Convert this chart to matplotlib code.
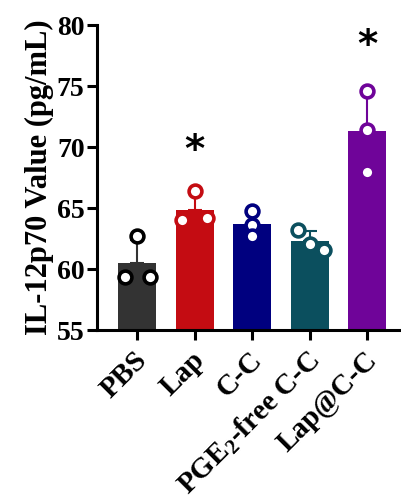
import numpy as np
import matplotlib.pyplot as plt
from matplotlib.transforms import ScaledTranslation

groups = ['PBS', 'Lap', 'C-C', 'PGE$_2$-free C-C', 'Lap@C-C']
values = [
    [59.35, 59.35, 62.7],
    [64.0, 64.2, 66.4],
    [64.8, 63.6, 62.7],
    [63.2, 61.6, 62.1],
    [74.6, 71.4, 68.0],
]
jitter = [
    [-0.22, 0.22, 0.0],
    [-0.22, 0.22, 0.0],
    [0.0, 0.0, 0.0],
    [-0.2, 0.24, 0.0],
    [0.0, 0.0, 0.0],
]
colors = ['#333333', '#C40C12', '#00007F', '#0B4F5E', '#6F0499']
marker_edges = ['#000000', '#C40C12', '#00007F', '#0B4F5E', '#6F0499']
star_groups = [1, 4]
star_y = [69.7, 78.3]

plt.rcParams['font.family'] = ['Liberation Serif', 'DejaVu Serif']
plt.rcParams['font.weight'] = 'bold'
plt.rcParams['mathtext.fontset'] = 'custom'
plt.rcParams['mathtext.rm'] = 'Liberation Serif:bold'
plt.rcParams['mathtext.it'] = 'Liberation Serif:bold'

fig = plt.figure(figsize=(4.01, 5.01), dpi=100)
ax = fig.add_axes([0.242, 0.341, 0.756, 0.609])

x = np.arange(len(groups))
means = [np.mean(v) for v in values]
sds = [np.std(v, ddof=1) for v in values]

for i in x:
    ax.bar(i, means[i] - 55, bottom=55, width=0.66, color=colors[i], zorder=1)
    ax.errorbar(i, means[i], yerr=[[0], [sds[i]]], color=colors[i], elinewidth=1.5,
                capsize=5, capthick=1.5, zorder=2)
    ax.scatter(i + np.array(jitter[i]), values[i], s=85, facecolor='white',
               edgecolor=marker_edges[i], linewidth=2.6, zorder=3)

for g, y in zip(star_groups, star_y):
    ax.text(g, y, '*', ha='center', va='center', fontsize=28, fontweight='bold',
            family='DejaVu Sans')

ax.set_ylim(55, 80)
ax.set_xlim(-0.7, 4.57)
ax.set_yticks([55, 60, 65, 70, 75, 80])
ax.set_xticks(x)
ax.set_xticklabels(groups, rotation=45, ha='right', rotation_mode='anchor')
ax.set_ylabel('IL-12p70 Value (pg/mL)', fontsize=22, fontweight='bold', labelpad=2)
ax.tick_params(axis='y', labelsize=20, width=2.2, length=7, pad=2)
ax.tick_params(axis='x', labelsize=21, width=2.2, length=7, pad=5)
# nudge rotated labels a little to the left, like the original
offset = ScaledTranslation(-3 / 72, 0, fig.dpi_scale_trans)
for lab in ax.get_xticklabels():
    lab.set_transform(lab.get_transform() + offset)
for s in ['top', 'right']:
    ax.spines[s].set_visible(False)
for s in ['left', 'bottom']:
    ax.spines[s].set_linewidth(2.2)

fig.savefig('out.png', dpi=100)
